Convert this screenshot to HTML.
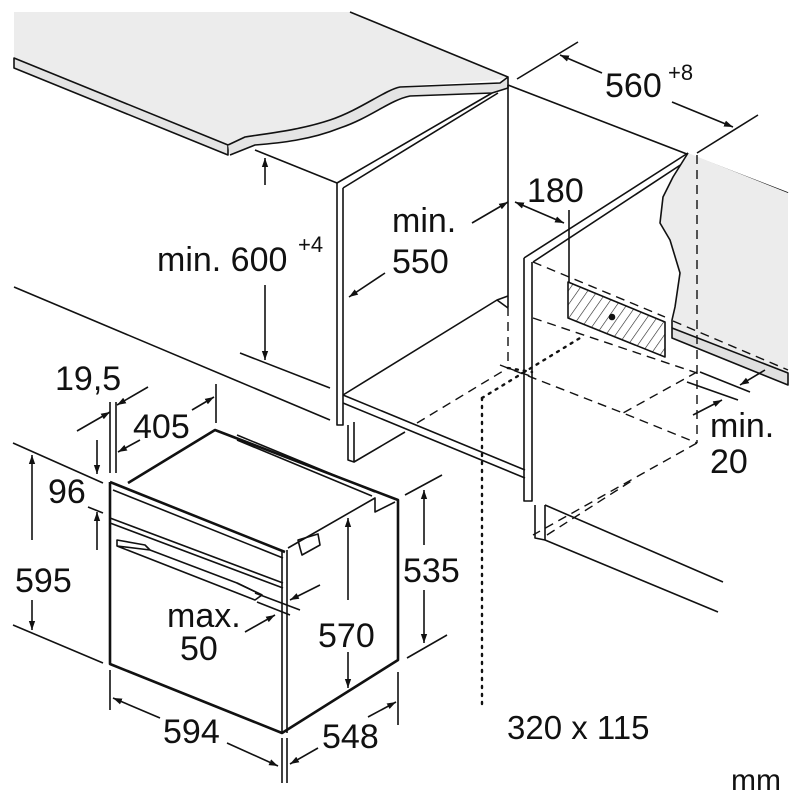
<!DOCTYPE html>
<html><head><meta charset="utf-8"><style>
html,body{margin:0;padding:0;background:#fff;}
svg{display:block;}
text{font-family:"Liberation Sans",Arial,sans-serif;fill:#111;}
</style></head><body>
<svg width="800" height="800" viewBox="0 0 800 800" xmlns="http://www.w3.org/2000/svg">
<defs>
<marker id="a" viewBox="0 0 10 10" refX="10" refY="5" markerWidth="9" markerHeight="9" markerUnits="userSpaceOnUse" orient="auto-start-reverse"><path d="M0,1.5 L10,5 L0,8.5 z" fill="#111"/></marker>
<pattern id="h" width="8" height="8" patternUnits="userSpaceOnUse" patternTransform="rotate(35)"><line x1="0" y1="0" x2="0" y2="8" stroke="#222" stroke-width="1.2"/></pattern>
</defs>
<rect width="800" height="800" fill="#fff"/>
<g stroke="#111" stroke-width="1.6" fill="none" stroke-linejoin="round">
<!-- countertop -->
<path d="M14,12 L350,12 L508,77 C500,83 420,83 400,87 C385,90 360,110 330,120 C300,130 270,133 245,137 L228,145 L14,58 Z" fill="#ececec" stroke="none"/>
<path d="M350,12 L508,77"/>
<path d="M14,58 L228,145 L228,155 L14,68 Z" fill="#e4e4e4"/>
<path d="M228,145 L245,137 C270,133 300,130 330,120 C360,110 385,90 400,87 L500,83 L508,77 L508,88 L492,93 L410,96 C390,100 370,118 340,128 C310,140 280,143 255,145 L230,155" fill="#e4e4e4"/>
<!-- back wall line -->
<path d="M508,85 L788,193"/>
<!-- left cabinet -->
<path d="M255,150 L337,183"/>
<path d="M337,183 L492,93 M343,188 L498,93"/>
<path d="M337,183 L337,425 L343,425 L343,188"/>
<path d="M508,85 L508,307"/>
<path d="M14,287 L330,420"/>
<path d="M240,353 L330,388"/>
<path d="M343,395 L497,300 L508,296"/>
<path d="M497,300 L508,308"/>
<path d="M343,395 L525,470 M343,403 L525,478"/>
<path d="M348,425 L348,460 L354,462 L354,422 M354,462 L405,432"/>
<!-- right cabinet -->
<path d="M524,258 L688,153 M533,262 L688,160"/>
<path d="M524,258 L524,501 L532,501 L532,262"/>
<path d="M535,505 L535,538 L545,540 L545,505"/>
<path d="M545,505 L723,582 M545,540 L718,612"/>
<!-- right wall gray -->
<path d="M688,153 L788,193 L788,373 L672,328 L672,320 L675,307 L680,273 L670,240 L660,223 L663,197 L673,177 Z" fill="#ececec" stroke="none"/>
<path d="M688,153 L673,177 L663,197 L660,223 L670,240 L680,273 L675,307 L672,320 L672,328"/>
<path d="M672,328 L788,373 L788,385 L672,338 Z" fill="#e0e0e0"/>
<!-- hatched -->
<path d="M568,282 L665,322 L665,357 L568,318 Z" fill="url(#h)"/>
<circle cx="612" cy="317" r="2.5" fill="#111"/>
<path d="M569,210 L569,282"/>
<!-- dashed -->
<g stroke-dasharray="9,6" stroke-width="1.4">
<path d="M697,155 L697,443"/>
<path d="M508,307 L508,368"/>
<path d="M533,262 L665,317 M673,321 L788,370"/>
<path d="M533,318 L697,373"/>
<path d="M697,372 L623,413"/>
<path d="M500,365 L623,413 L697,443"/>
<path d="M697,443 L533,535"/>
<path d="M417,423 L508,368 L533,377"/>
<path d="M547,535 L633,480"/>
</g>
<!-- dotted -->
<g stroke-dasharray="2,6" stroke-width="2.4" stroke-linecap="round">
<path d="M482,398 L580,338"/>
<path d="M482,398 L482,705"/>
<path d="M508,368 L532,372"/>
</g>
<!-- oven -->
<g stroke-width="2.6">
<path d="M110,482 L110,664 L282,733 L398,660 L398,500 L215,430 L128,483"/>
<path d="M110,482 L285,552"/>
</g>
<path d="M113,490 L283,558"/>
<path d="M110,518 L283,583 M110,523 L283,588"/>
<path d="M282,552 L282,733 M287,550 L287,733"/>
<path d="M288,548 L375,498 L375,512 L395,502"/>
<path d="M237,435 L375,492 M237,440 L372,496"/>
<path d="M300,548 L298,540 L318,534 L320,545 L302,555 Z"/>
<path d="M117,540 L145,545 L150,550 L117,546 Z M117,546 L255,600 L262,595 L237,583 L150,550"/>
<path d="M237,583 L262,595"/>
<!-- dimension lines -->
<path d="M517,79 L578,42 M697,153 L758,115"/>
<path d="M602,73 L560,55" marker-end="url(#a)"/>
<path d="M672,102 L733,127" marker-end="url(#a)"/>
<path d="M265,185 L265,158" marker-end="url(#a)"/>
<path d="M265,285 L265,360" marker-end="url(#a)"/>
<path d="M472,223 L508,202" marker-end="url(#a)"/>
<path d="M385,273 L349,297" marker-end="url(#a)"/>
<path d="M515,202 L564,223" marker-start="url(#a)" marker-end="url(#a)"/>
<path d="M700,372 L750,392 M687,382 L738,400"/>
<path d="M765,370 L740,385" marker-end="url(#a)"/>
<path d="M693,415 L722,400" marker-end="url(#a)"/>
<!-- oven dims -->
<path d="M110,402 L110,473 M116,402 L116,473"/>
<path d="M77,431 L110,412" marker-end="url(#a)"/>
<path d="M148,387 L117,405" marker-end="url(#a)"/>
<path d="M216,384 L216,423"/>
<path d="M140,440 L118,452" marker-end="url(#a)"/>
<path d="M192,410 L214,397" marker-end="url(#a)"/>
<path d="M97,440 L97,474" marker-end="url(#a)"/>
<path d="M97,550 L97,512" marker-end="url(#a)"/>
<path d="M88,507 L103,513"/>
<path d="M13,443 L103,483 M13,625 L103,663"/>
<path d="M32,540 L32,455" marker-end="url(#a)"/>
<path d="M32,600 L32,630" marker-end="url(#a)"/>
<path d="M110,670 L110,710 M282,738 L282,783 M287,738 L287,783 M398,672 L398,725"/>
<path d="M160,718 L113,698" marker-end="url(#a)"/>
<path d="M227,743 L278,766" marker-end="url(#a)"/>
<path d="M318,748 L290,764" marker-end="url(#a)"/>
<path d="M368,717 L396,702" marker-end="url(#a)"/>
<path d="M348,600 L348,518" marker-end="url(#a)"/>
<path d="M348,652 L348,688" marker-end="url(#a)"/>
<path d="M405,495 L442,475 M407,658 L447,635"/>
<path d="M424,545 L424,490" marker-end="url(#a)"/>
<path d="M424,590 L424,643" marker-end="url(#a)"/>
<path d="M255,593 L300,610 M257,602 L290,615"/>
<path d="M320,585 L290,600" marker-end="url(#a)"/>
<path d="M245,632 L275,615" marker-end="url(#a)"/>
</g>
<!-- labels -->
<g font-size="34">
<text x="157" y="271">min. 600</text>
<text x="298" y="252" font-size="22">+4</text>
<text x="392" y="232">min.</text>
<text x="392" y="273">550</text>
<text x="527" y="202">180</text>
<text x="605" y="97">560</text>
<text x="668" y="80" font-size="22">+8</text>
<text x="710" y="437">min.</text>
<text x="710" y="473">20</text>
<text x="55" y="390">19,5</text>
<text x="133" y="438">405</text>
<text x="48" y="503">96</text>
<text x="15" y="592">595</text>
<text x="167" y="627">max.</text>
<text x="180" y="660">50</text>
<text x="318" y="647">570</text>
<text x="403" y="582">535</text>
<text x="163" y="743">594</text>
<text x="322" y="748">548</text>
<text x="507" y="739" font-size="33">320 x 115</text>
<text x="731" y="790" font-size="30">mm</text>
</g>
</svg>
</body></html>
